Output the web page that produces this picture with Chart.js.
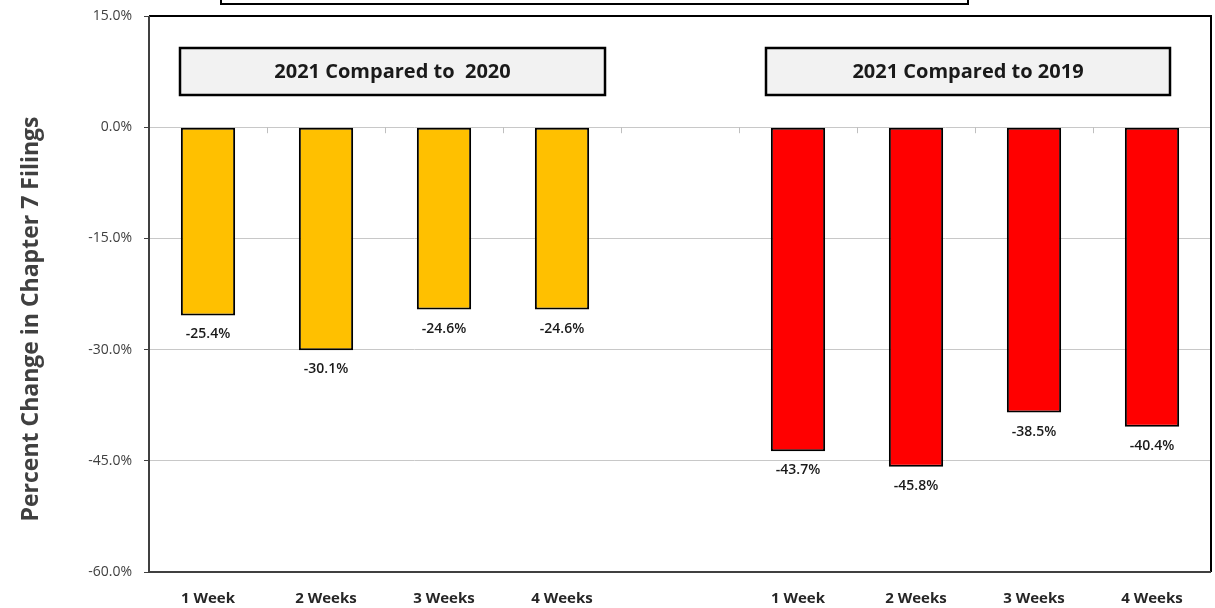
<!DOCTYPE html>
<html>
<head>
<meta charset="utf-8">
<script src="https://cdn.jsdelivr.net/npm/chart.js@4/dist/chart.umd.min.js"></script>
<style>
  html, body { margin: 0; padding: 0; background: #fff; }
  #wrap { width: 1215px; height: 608px; position: relative; }
</style>
</head>
<body>
<div id="wrap"><canvas id="chapter7Chart"></canvas></div>
<script>
      // Chapter 7 filings - percent change, 2021 vs 2020 and 2021 vs 2019
      const categories = ['1 Week', '2 Weeks', '3 Weeks', '4 Weeks', '', '1 Week', '2 Weeks', '3 Weeks', '4 Weeks'];
      const vs2020 = [-25.4, -30.1, -24.6, -24.6];
      const vs2019 = [-43.7, -45.8, -38.5, -40.4];
      const yTicks = [15, 0, -15, -30, -45, -60];
      const panelTitles = ['2021 Compared to  2020', '2021 Compared to 2019'];
      const yTitle = 'Percent Change in Chapter 7 Filings';

      const FONT = '"Open Sans", Lato, sans-serif';

      // pad series out to the 9 slots (slot 5 is the gap between the groups)
      const data2020 = vs2020.concat([null, null, null, null, null]);
      const data2019 = [null, null, null, null, null].concat(vs2019);

      // boxes, borders, labels drawn on top of the chart
      const decorPlugin = {
        id: 'decor',
        afterDatasetsDraw(chart) {
          const ctx = chart.ctx;
          const a = chart.chartArea;
          const x = chart.scales.x;
          const y = chart.scales.y;
          ctx.save();

          // small category ticks on the zero line
          const y0 = y.getPixelForValue(0);
          ctx.strokeStyle = '#bfbfbf';
          ctx.lineWidth = 1;
          for (let i = 0; i < categories.length - 1; i++) {
            const bx = Math.round((x.getPixelForTick(i) + x.getPixelForTick(i + 1)) / 2) + 0.5;
            ctx.beginPath();
            ctx.moveTo(bx, y0);
            ctx.lineTo(bx, y0 + 6);
            ctx.stroke();
          }

          // value labels under each bar
          ctx.font = '600 14px ' + FONT;
          ctx.fillStyle = '#1a1a1a';
          ctx.textAlign = 'center';
          ctx.textBaseline = 'middle';
          chart.data.datasets.forEach((ds, di) => {
            chart.getDatasetMeta(di).data.forEach((bar, i) => {
              const v = ds.data[i];
              if (v === null) return;
              ctx.fillText(v.toFixed(1) + '%', bar.x, bar.y + 19);
            });
          });

          // plot frame
          ctx.lineWidth = 2;
          ctx.strokeStyle = '#000';
          ctx.beginPath();
          ctx.moveTo(a.left, a.top);
          ctx.lineTo(a.right, a.top);
          ctx.lineTo(a.right, a.bottom);
          ctx.stroke();
          ctx.strokeStyle = '#404040';
          ctx.beginPath();
          ctx.moveTo(a.left, a.top);
          ctx.lineTo(a.left, a.bottom);
          ctx.lineTo(a.right, a.bottom);
          ctx.stroke();

          // cut-off title box at the very top
          ctx.strokeStyle = '#000';
          ctx.lineWidth = 2;
          ctx.strokeRect(221, -10, 747, 14);

          // group caption boxes
          const boxes = [[180, 48, 425, 47], [766, 48, 404, 47]];
          boxes.forEach((b, i) => {
            ctx.fillStyle = '#f2f2f2';
            ctx.fillRect(b[0], b[1], b[2], b[3]);
            ctx.strokeStyle = '#000';
            ctx.lineWidth = 2.5;
            ctx.strokeRect(b[0], b[1], b[2], b[3]);
            ctx.fillStyle = '#1a1a1a';
            ctx.font = 'bold 20px ' + FONT;
            ctx.fillText(panelTitles[i], b[0] + b[2] / 2, b[1] + b[3] / 2 + 1);
          });

          // y axis title
          ctx.translate(31, 319);
          ctx.rotate(-Math.PI / 2);
          ctx.fillStyle = '#404040';
          ctx.font = 'bold 23px ' + FONT;
          ctx.fillText(yTitle, 0, 0);
          ctx.restore();
        }
      };

      const chapter7Config = {
        type: 'bar',
        data: {
          labels: categories,
          datasets: [{
            label: '2021 vs 2020',
            data: data2020,
            backgroundColor: '#FFC000',
            borderColor: '#000',
            borderWidth: 2,
            borderSkipped: false,
            grouped: false,
            barPercentage: 0.46,
            categoryPercentage: 1
          }, {
            label: '2021 vs 2019',
            data: data2019,
            backgroundColor: '#FF0000',
            borderColor: '#000',
            borderWidth: 2,
            borderSkipped: false,
            grouped: false,
            barPercentage: 0.46,
            categoryPercentage: 1
          }]
        },
        options: {
          responsive: true,
          maintainAspectRatio: false,
          animation: false,
          layout: {
            padding: { top: 16, right: 4, bottom: 0, left: 0 }
          },
          plugins: {
            legend: { display: false },
            tooltip: { enabled: false }
          },
          scales: {
            y: {
              min: -60,
              max: 15,
              afterFit: function(scale) {
                scale.width = 149;
                scale.paddingTop = 0;
                scale.paddingBottom = 0;
              },
              afterBuildTicks: function(scale) {
                scale.ticks = yTicks.map(v => ({ value: v }));
              },
              ticks: {
                padding: 12,
                color: '#404040',
                font: { family: FONT, size: 14 },
                callback: function(value) {
                  return value.toFixed(1) + '%';
                }
              },
              grid: {
                color: '#c8c8c8',
                lineWidth: 1,
                tickLength: 5,
                tickColor: '#404040'
              },
              border: { display: false }
            },
            x: {
              afterFit: function(scale) {
                scale.height = 36;
                scale.paddingLeft = 0;
                scale.paddingRight = 0;
              },
              grid: { display: false },
              border: { display: false },
              ticks: {
                autoSkip: false,
                maxRotation: 0,
                padding: 10,
                color: '#262626',
                font: { family: FONT, size: 15, weight: 'bold' }
              }
            }
          }
        },
        plugins: [decorPlugin]
      };

      new Chart(
        document.getElementById('chapter7Chart'),
        chapter7Config
      );
</script>
</body>
</html>
